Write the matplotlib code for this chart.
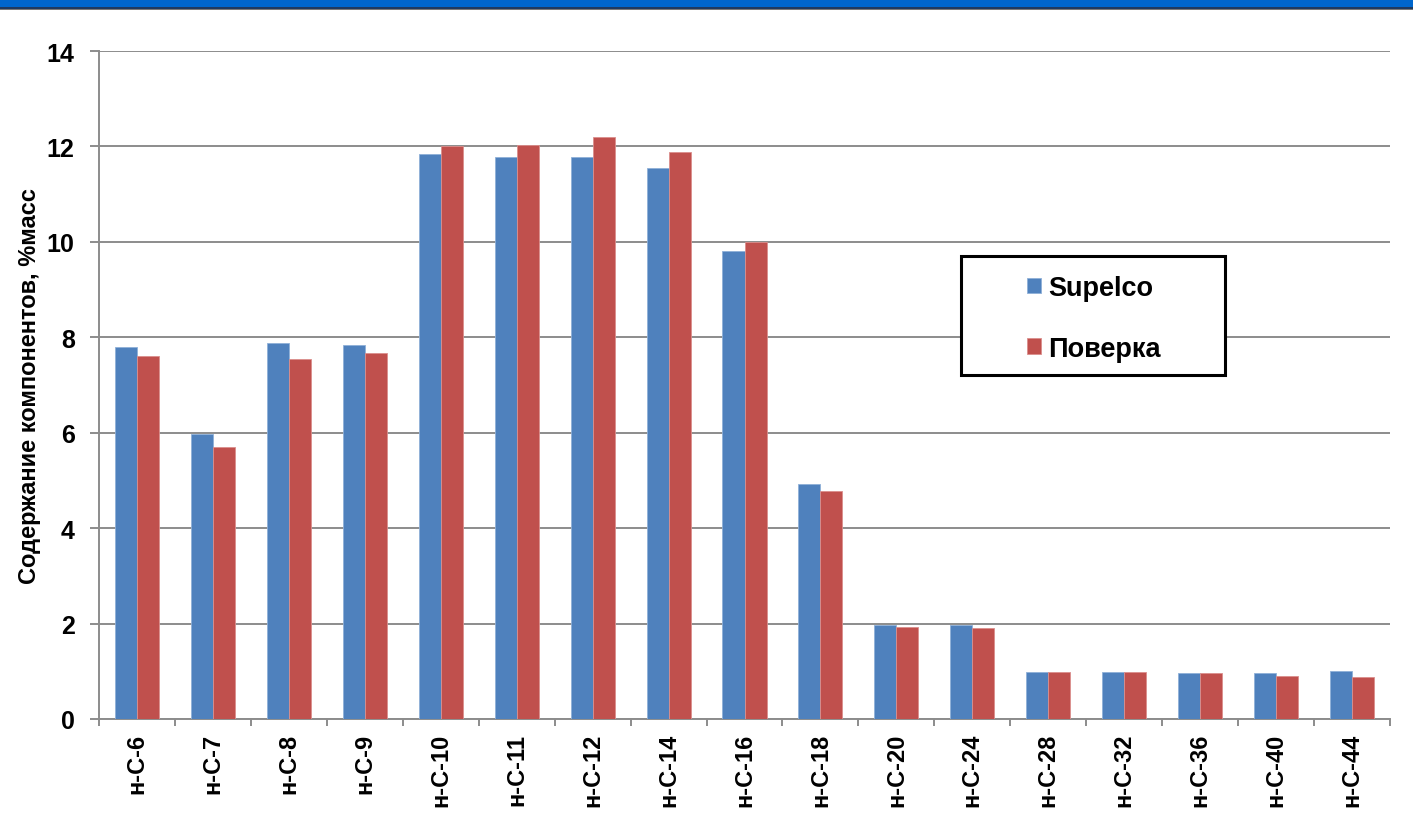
import numpy as np
import matplotlib
matplotlib.use("Agg")
import matplotlib.pyplot as plt
from matplotlib.patches import Rectangle

plt.rcParams['font.family'] = ['Liberation Sans', 'DejaVu Sans']
plt.rcParams['font.weight'] = 'bold'

categories = ["н-С-6", "н-С-7", "н-С-8", "н-С-9", "н-С-10", "н-С-11", "н-С-12",
              "н-С-14", "н-С-16", "н-С-18", "н-С-20", "н-С-24", "н-С-28",
              "н-С-32", "н-С-36", "н-С-40", "н-С-44"]
supelco = [7.80, 5.97, 7.88, 7.84, 11.84, 11.78, 11.77, 11.55, 9.80, 4.92,
           1.96, 1.96, 0.98, 0.98, 0.97, 0.97, 1.00]
poverka = [7.61, 5.70, 7.55, 7.67, 12.00, 12.04, 12.19, 11.88, 9.99, 4.77,
           1.93, 1.91, 0.98, 0.98, 0.97, 0.91, 0.88]
series_names = ["Supelco", "Поверка"]
yticks = [0, 2, 4, 6, 8, 10, 12, 14]

blue = "#4F81BD"
red = "#C0504D"
grid_gray = "#8C8C8C"

fig = plt.figure(figsize=(14.13, 8.29), dpi=100)
W, H = 1413, 829


def px_box(x0, y0, x1, y1):
    """Figure-fraction rectangle from pixel coordinates measured from the top-left."""
    return (x0 / W, 1 - y1 / H), (x1 - x0) / W, (y1 - y0) / H


# header band
for (y0, y1, col) in [(0, 8, "#0066CC"), (8, 10, "#1F3A5F"), (10, 11, "#777777")]:
    xy, w, h = px_box(0, y0, W, y1)
    fig.patches.append(Rectangle(xy, w, h, transform=fig.transFigure,
                                 facecolor=col, edgecolor="none", zorder=0))

left, right, top, bottom = 99, 1390, 52, 720
ax = fig.add_axes([left / W, 1 - bottom / H, (right - left) / W, (bottom - top) / H])

x = np.arange(len(categories))
bw = 0.29
ax.bar(x - bw / 2, supelco, bw, color=blue, edgecolor="#8FB0D8", linewidth=0.6,
       label=series_names[0], zorder=3)
ax.bar(x + bw / 2, poverka, bw, color=red, edgecolor="#DB8F8D", linewidth=0.6,
       label=series_names[1], zorder=3)

ax.set_xlim(-0.5, len(categories) - 0.5)
ax.set_ylim(0, 14)
ax.set_yticks(yticks)
ax.set_yticklabels([str(v) for v in yticks], fontsize=18, fontweight='bold')
ax.yaxis.grid(True, color=grid_gray, linewidth=1.4, zorder=0)
ax.set_axisbelow(True)

ax.set_xticks(x)
ax.set_xticklabels(categories, rotation=90, fontsize=17, fontweight='bold')
ax.set_xticks(np.arange(-0.5, len(categories)), minor=True)
ax.tick_params(axis='x', which='major', length=0, pad=10)
ax.tick_params(axis='x', which='minor', length=5, width=1.4, color=grid_gray)
ax.tick_params(axis='y', length=6.5, width=1.4, color=grid_gray, pad=11)

for s in ["top", "right"]:
    ax.spines[s].set_visible(False)
for s in ["left", "bottom"]:
    ax.spines[s].set_color(grid_gray)
    ax.spines[s].set_linewidth(1.4)

ax.set_ylabel("Содержание компонентов, %масс", fontsize=17, fontweight='bold',
              labelpad=4)

# legend box with generous inner margins
xy, w, h = px_box(961, 257, 1225, 376)
ax.add_patch(Rectangle(xy, w, h, transform=fig.transFigure, facecolor="white",
                       edgecolor="black", linewidth=2.2, zorder=5, clip_on=False))
leg = ax.legend(loc="upper left",
                bbox_to_anchor=(1027 / W, 1 - 276 / H),
                bbox_transform=fig.transFigure,
                frameon=False, fontsize=19.5, handlelength=0.52,
                handleheight=0.52, labelspacing=1.28, borderpad=0,
                handletextpad=0.27, borderaxespad=0)
leg.set_zorder(6)
for t in leg.get_texts():
    t.set_fontweight('bold')

fig.savefig("out.png", dpi=100, facecolor="white")
